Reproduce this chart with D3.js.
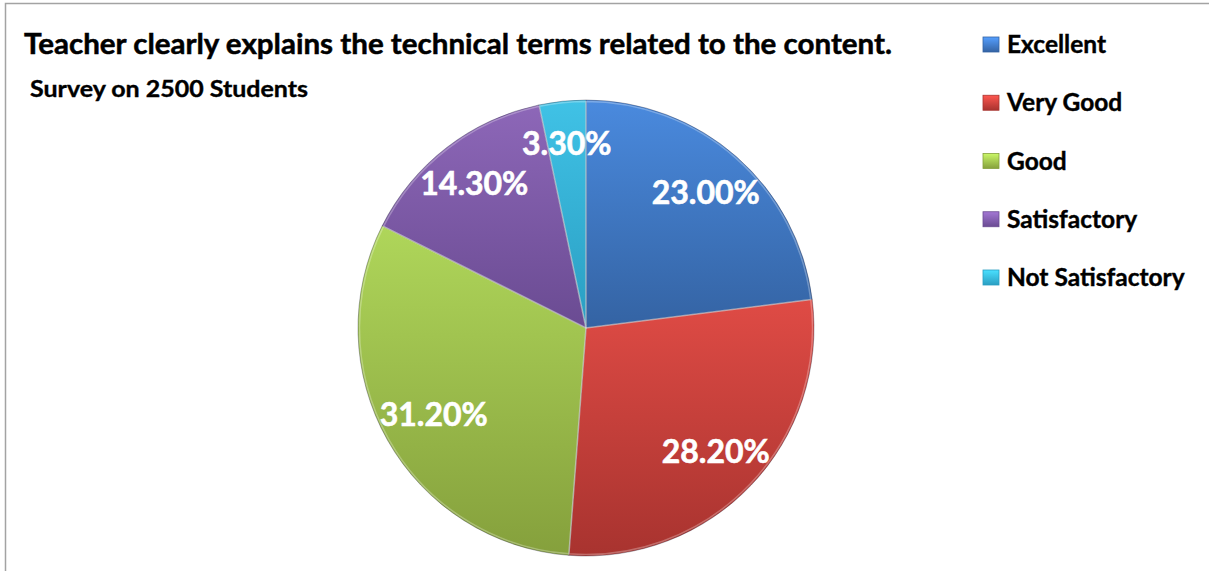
<!DOCTYPE html>
<html><head><meta charset="utf-8">
<script src="https://cdn.jsdelivr.net/npm/d3@7"></script>
<style>html,body{margin:0;padding:0;background:#fff;overflow:hidden}</style>
</head><body>
<svg id="chart" width="1209" height="571"></svg>
<script>
const categories = ["Excellent", "Very Good", "Good", "Satisfactory", "Not Satisfactory"];
const values = [23.0, 28.2, 31.2, 14.3, 3.3];
const labels = ["23.00%", "28.20%", "31.20%", "14.30%", "3.30%"];
const topColors = ["#4a8ade", "#df4b45", "#afd65a", "#8d67b8", "#40c2e6"];
const bottomColors = ["#3463a3", "#a8332f", "#85a03c", "#6a4b92", "#2a9ec2"];
const titleText = "Teacher clearly explains the technical terms related to the content.";
const subtitleText = "Survey on 2500 Students";

const svg = d3.select("#chart");
const FONT = "Lato, 'Open Sans', sans-serif";
svg.append("rect").attr("x", 5.5).attr("y", 3.5).attr("width", 1230).attr("height", 620)
  .attr("fill", "#fff").attr("stroke", "#a3a3a3").attr("stroke-width", 1.5);

const defs = svg.append("defs");
categories.forEach((c, i) => {
  const g = defs.append("linearGradient").attr("id", "g" + i)
    .attr("x1", 0).attr("y1", 0).attr("x2", 0).attr("y2", 1);
  g.append("stop").attr("offset", "0%").attr("stop-color", topColors[i]);
  g.append("stop").attr("offset", "100%").attr("stop-color", bottomColors[i]);
  const lg = defs.append("linearGradient").attr("id", "lg" + i)
    .attr("x1", 0).attr("y1", 0).attr("x2", 0).attr("y2", 1);
  lg.append("stop").attr("offset", "0%").attr("stop-color", d3.color(topColors[i]).brighter(0.4));
  lg.append("stop").attr("offset", "100%").attr("stop-color", bottomColors[i]);
});

const cx = 586, cy = 328, R = 228;
const pie = d3.pie().sort(null).value(d => d)(values);
const arc = d3.arc().innerRadius(0).outerRadius(R);
const labelArc = d3.arc().innerRadius(186).outerRadius(186);

const gPie = svg.append("g").attr("transform", `translate(${cx},${cy})`);
gPie.selectAll("path.slice").data(pie).join("path").attr("class", "slice")
  .attr("d", arc)
  .attr("fill", (d, i) => `url(#g${i})`)
  .attr("stroke", "rgba(40,40,60,0.35)").attr("stroke-width", 1);
gPie.selectAll("path.hl").data(pie).join("path").attr("class", "hl")
  .attr("d", d3.arc().innerRadius(0).outerRadius(R - 1.5))
  .attr("fill", "none")
  .attr("stroke", "rgba(255,255,255,0.28)").attr("stroke-width", 1.5);

const lbl = gPie.selectAll("text.lbl").data(pie).join("text").attr("class", "lbl")
  .attr("text-anchor", "middle").attr("dy", "0.36em")
  .attr("font-family", FONT).attr("font-weight", "bold")
  .attr("font-size", 32).attr("fill", "#fff")
  .attr("stroke", "#fff").attr("stroke-width", 0.6)
  .text((d, i) => labels[i]);
// keep each label box inside the pie (best-fit style)
lbl.each(function(d) {
  const el = d3.select(this);
  let [x, y] = labelArc.centroid(d);
  const bb = this.getBBox();
  const w = bb.width, h = 24;
  const a = (d.startAngle + d.endAngle) / 2;
  const ux = Math.sin(a), uy = -Math.cos(a);
  const lim = R + 1;
  for (let k = 0; k < 60; k++) {
    const corners = [[x - w/2, y - h/2], [x + w/2, y - h/2], [x - w/2, y + h/2], [x + w/2, y + h/2]];
    const m = d3.max(corners, c => Math.hypot(c[0], c[1]));
    if (m <= lim) break;
    x -= ux; y -= uy;
  }
  el.attr("transform", `translate(${x},${y})`);
});

svg.append("text").attr("x", 24).attr("y", 54)
  .attr("font-family", FONT).attr("font-weight", "bold")
  .attr("font-size", 29).attr("fill", "#000")
  .attr("stroke", "#000").attr("stroke-width", 0.5)
  .attr("textLength", 868).attr("lengthAdjust", "spacingAndGlyphs")
  .text(titleText);
svg.append("text").attr("x", 30).attr("y", 97)
  .attr("font-family", FONT).attr("font-weight", "bold")
  .attr("font-size", 22).attr("fill", "#000")
  .attr("stroke", "#000").attr("stroke-width", 0.35)
  .attr("textLength", 278).attr("lengthAdjust", "spacingAndGlyphs")
  .text(subtitleText);

const legend = svg.append("g").attr("transform", "translate(983,37)");
const ly = d3.scalePoint().domain(categories).range([0, 233]);
const item = legend.selectAll("g").data(categories).join("g")
  .attr("transform", d => `translate(0,${ly(d)})`);
item.append("rect").attr("width", 16).attr("height", 15)
  .attr("fill", (d, i) => `url(#lg${i})`)
  .attr("stroke", (d, i) => bottomColors[i]).attr("stroke-width", 0.8);
item.append("text").attr("x", 24).attr("y", 16)
  .attr("font-family", FONT).attr("font-weight", "bold")
  .attr("font-size", 24.5).attr("fill", "#000")
  .attr("stroke", "#000").attr("stroke-width", 0.4)
  .text(d => d);
</script>
</body></html>
